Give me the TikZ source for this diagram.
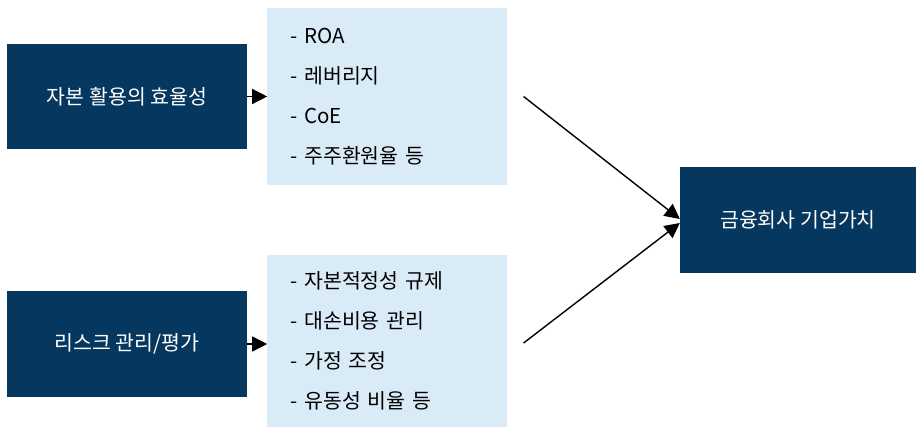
\documentclass[tikz,border=0pt]{standalone}
\usepackage{fontspec}
\setmainfont{Noto Sans CJK KR}
\usepackage{xcolor}
\definecolor{navycol}{RGB}{6, 55, 94}
\definecolor{skycol}{RGB}{218, 235, 248}
\usepackage{tikz}
\usetikzlibrary{positioning, arrows.meta}

\tikzset{
  darkbox/.style={fill=navycol, minimum width=240pt, minimum height=105pt,
        inner sep=0pt, font=\fontsize{20.5}{24}\selectfont\color{white}},
  listbox/.style={fill=skycol, minimum width=240pt, text width=194pt,
        inner xsep=23pt, inner ysep=0pt, align=left,
        font=\fontsize{20.5}{40}\selectfont\color{black}},
  arr/.style={-{Triangle[length=15pt, width=15pt]}, line width=1.4pt, color=black}
}

\begin{document}
\begin{tikzpicture}[x=1pt, y=-1pt, node distance=20pt]
  \useasboundingbox (0,0) rectangle (916,428);

  \node[darkbox] (cap) at (127,96.5) {자본 활용의 효율성};
  \node[listbox, minimum height=176pt, right=of cap] (caplist)
        {- ROA\\- 레버리지\\- CoE\\- 주주환원율 등};

  \node[darkbox, minimum height=106pt] (risk) at (127,344) {리스크 관리/평가};
  \node[listbox, minimum height=172pt, right=of risk, yshift=3pt] (risklist)
        {- 자본적정성 규제\\- 대손비용 관리\\- 가정 조정\\- 유동성 비율 등};

  \node[darkbox, minimum width=236pt, minimum height=106pt] (value) at (798,220)
        {금융회사 기업가치};

  \coordinate[right=16pt of caplist.east] (capout);
  \coordinate[xshift=16pt] (riskout) at (risklist.east |- 0,343);

  \draw[arr] (cap.east) -- (caplist.west);
  \draw[arr] (risk.east) -- (risklist.west |- risk.east);
  \draw[arr] (capout) -- ([yshift=1pt]value.west);
  \draw[arr] (riskout) -- ([yshift=-3pt]value.west);
\end{tikzpicture}
\end{document}
